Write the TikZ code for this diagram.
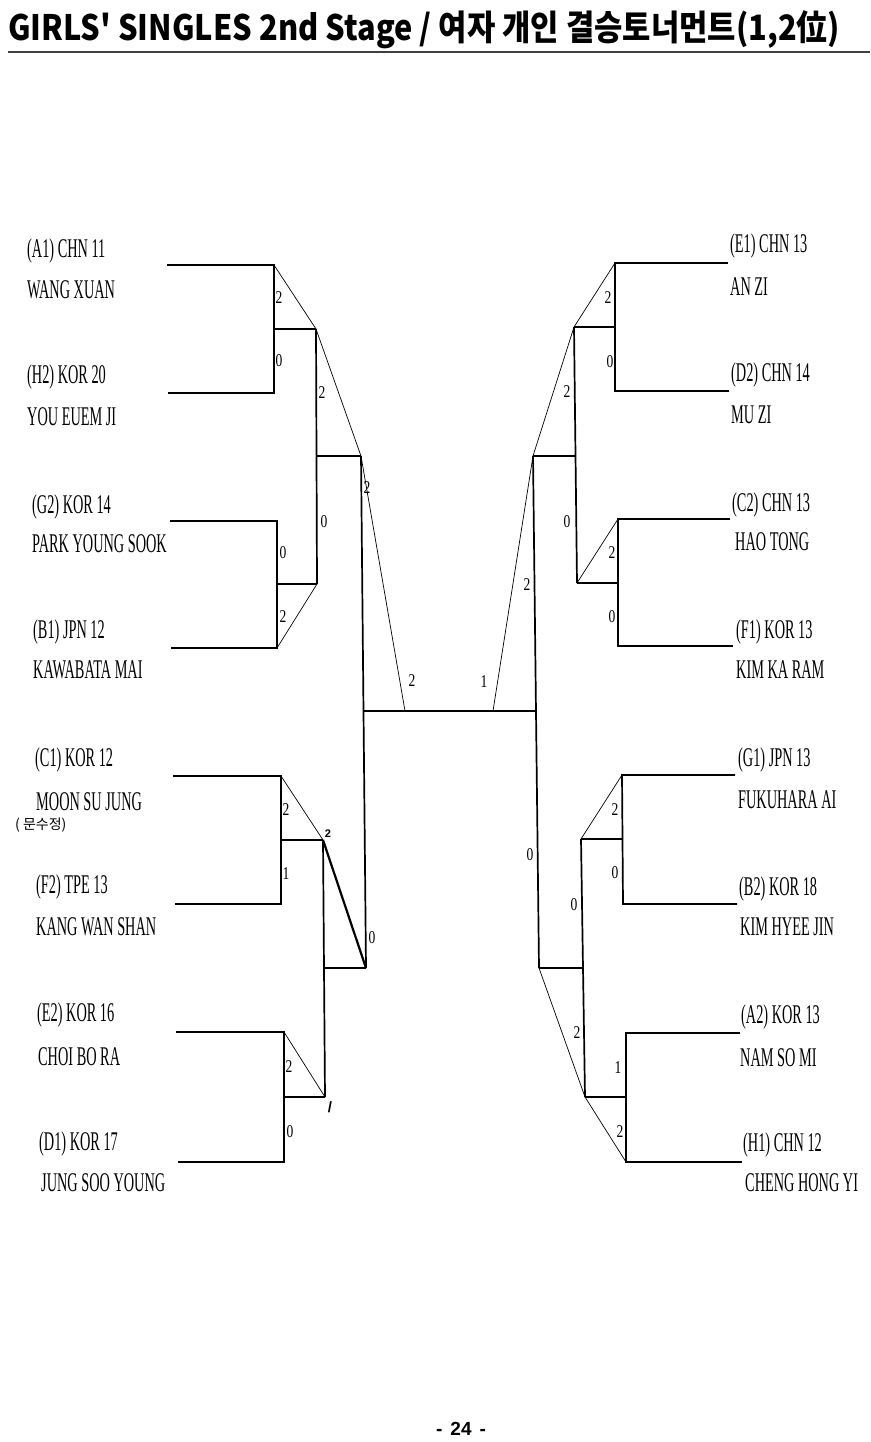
\documentclass[tikz,border=0pt]{standalone}
\usepackage{fontspec}
\setmainfont{Liberation Serif}
\newfontfamily\namefont{Liberation Serif}[FakeStretch=0.53]
\newfontfamily\scorefont{Liberation Serif}[FakeStretch=0.75]
\newfontfamily\titlefont{Noto Sans CJK KR}[FakeStretch=0.88]
\newfontfamily\hangulfont{Noto Sans CJK KR}
\newfontfamily\pagefont{Liberation Sans}
\usetikzlibrary{positioning}

\begin{document}
\begin{tikzpicture}[x=1pt,y=-1pt,
  player/.style={anchor=base west,inner sep=0pt,font=\namefont\fontsize{27}{29}\selectfont},
  score/.style={inner sep=0pt,font=\scorefont\fontsize{18}{20}\selectfont},
  pen/.style={inner sep=0pt,font=\pagefont\bfseries\fontsize{11}{12}\selectfont},
  entry/.style={line width=1.7pt},
  rung/.style={line width=1.4pt},
  winner/.style={line width=0.7pt}]
  \useasboundingbox (0,0) rectangle (870,1442);

  % title and rule
  \node[anchor=base west,inner sep=0pt,font=\titlefont\bfseries\fontsize{35}{40}\selectfont]
    (title) at (8,41) {GIRLS' SINGLES 2nd Stage / 여자 개인 결승토너먼트(1,2位)};
  \coordinate (rulel) at (8,52);
  \coordinate (ruler) at (870,52);
  \draw[line width=1.6pt,black!75] (rulel) -- (ruler);

  % left half, first round
  \coordinate (a1) at (167,265); \coordinate (a1e) at (274,265);
  \coordinate (h2) at (168,393); \coordinate (h2e) at (274,393);
  \coordinate (m1) at (274,329); \coordinate (m1e) at (316,329);
  \draw[entry] (a1) -- (a1e) -- (h2e) -- (h2);
  \draw[rung] (m1) -- (m1e);
  \draw[winner] (a1e) -- (m1e);

  \coordinate (g2) at (170,521); \coordinate (g2e) at (277,521);
  \coordinate (b1) at (171,648); \coordinate (b1e) at (277,648);
  \coordinate (m2) at (277,584); \coordinate (m2e) at (317,584);
  \draw[entry] (g2) -- (g2e) -- (b1e) -- (b1);
  \draw[rung] (m2) -- (m2e);
  \draw[winner] (b1e) -- (m2e);

  \coordinate (c1) at (173,776); \coordinate (c1e) at (281,776);
  \coordinate (f2) at (175,904); \coordinate (f2e) at (281,904);
  \coordinate (m3) at (281,840); \coordinate (m3e) at (323,840);
  \draw[entry] (c1) -- (c1e) -- (f2e) -- (f2);
  \draw[rung] (m3) -- (m3e);
  \draw[winner] (c1e) -- (m3e);

  \coordinate (e2) at (176,1032); \coordinate (e2e) at (284,1032);
  \coordinate (d1) at (178,1162); \coordinate (d1e) at (284,1162);
  \coordinate (m4) at (284,1097); \coordinate (m4e) at (325,1097);
  \draw[entry] (e2) -- (e2e) -- (d1e) -- (d1);
  \draw[rung] (m4) -- (m4e);
  \draw[winner] (e2e) -- (m4e);

  % left half, second round and semi
  \coordinate (q1) at (316,456); \coordinate (q1e) at (361,456);
  \draw[entry] (m1e) -- (m2e);
  \draw[rung] (q1) -- (q1e);
  \draw[winner] (m1e) -- (q1e);

  \coordinate (q2) at (324,968); \coordinate (q2e) at (366,968);
  \draw[entry] (m3e) -- (m4e);
  \draw[rung] (q2) -- (q2e);
  \draw[line width=2.2pt] (m3e) -- (q2e);

  \draw[entry] (q1e) -- (q2e);

  % right half, first round
  \coordinate (e1) at (728,263); \coordinate (e1e) at (615,263);
  \coordinate (d2) at (729,391); \coordinate (d2e) at (615,391);
  \coordinate (m5) at (615,327); \coordinate (m5e) at (574,327);
  \draw[entry] (e1) -- (e1e) -- (d2e) -- (d2);
  \draw[rung] (m5) -- (m5e);
  \draw[winner] (e1e) -- (m5e);

  \coordinate (c2) at (730,519); \coordinate (c2e) at (618,519);
  \coordinate (f1) at (733,646); \coordinate (f1e) at (618,646);
  \coordinate (m6) at (618,583); \coordinate (m6e) at (577,583);
  \draw[entry] (c2) -- (c2e) -- (f1e) -- (f1);
  \draw[rung] (m6) -- (m6e);
  \draw[winner] (c2e) -- (m6e);

  \coordinate (g1) at (735,775); \coordinate (g1e) at (622,775);
  \coordinate (b2) at (737,904); \coordinate (b2e) at (623,904);
  \coordinate (m7) at (622,839); \coordinate (m7e) at (581,839);
  \draw[entry] (g1) -- (g1e) -- (b2e) -- (b2);
  \draw[rung] (m7) -- (m7e);
  \draw[winner] (g1e) -- (m7e);

  \coordinate (a2) at (740,1033); \coordinate (a2e) at (626,1033);
  \coordinate (h1) at (742,1162); \coordinate (h1e) at (626,1162);
  \coordinate (m8) at (626,1097); \coordinate (m8e) at (585,1097);
  \draw[entry] (a2) -- (a2e) -- (h1e) -- (h1);
  \draw[rung] (m8) -- (m8e);
  \draw[winner] (h1e) -- (m8e);

  % right half, second round and semi
  \coordinate (q3) at (575,456); \coordinate (q3e) at (533,456);
  \draw[entry] (m5e) -- (m6e);
  \draw[rung] (q3) -- (q3e);
  \draw[winner] (m5e) -- (q3e);

  \coordinate (q4) at (583,968); \coordinate (q4e) at (539,968);
  \draw[entry] (m7e) -- (m8e);
  \draw[rung] (q4) -- (q4e);
  \draw[winner] (m8e) -- (q4e);

  \draw[entry] (q3e) -- (q4e);

  % final
  \coordinate (finl) at (363,711); \coordinate (finlw) at (405,711);
  \coordinate (finr) at (536,711); \coordinate (finrw) at (493,711);
  \draw[entry] (finl) -- (finr);
  \draw[winner] (q1e) -- (finlw);
  \draw[winner] (q3e) -- (finrw);

  % scores
  \node[score] (s1a) at (279,298) {2};
  \node[score] (s1b) at (279,361) {0};
  \node[score] (s2a) at (283,553) {0};
  \node[score] (s2b) at (283,617) {2};
  \node[score] (s3a) at (286,810) {2};
  \node[score] (s3b) at (286,874) {1};
  \node[score] (s4a) at (289,1067) {2};
  \node[score] (s4b) at (290,1132) {0};
  \node[score] (t1a) at (322,393) {2};
  \node[score] (t1b) at (324,522) {0};
  \node[pen] (t2a) at (328,834) {2};
  \node[pen,font=\pagefont\bfseries\fontsize{15}{16}\selectfont] (t2b) at (330,1107) {/};
  \node[score] (u1a) at (367,488) {2};
  \node[score] (u1b) at (372,938) {0};
  \node[score] (s5a) at (608,298) {2};
  \node[score] (s5b) at (610,362) {0};
  \node[score] (s6a) at (612,553) {2};
  \node[score] (s6b) at (612,617) {0};
  \node[score] (s7a) at (615,810) {2};
  \node[score] (s7b) at (615,873) {0};
  \node[score] (s8a) at (618,1068) {1};
  \node[score] (s8b) at (620,1132) {2};
  \node[score] (t3a) at (567,392) {2};
  \node[score] (t3b) at (567,522) {0};
  \node[score] (t4a) at (574,905) {0};
  \node[score] (t4b) at (577,1033) {2};
  \node[score] (u2a) at (527,585) {2};
  \node[score] (u2b) at (530,855) {0};
  \node[score] (v1) at (412,681) {2};
  \node[score] (v2) at (484,682) {1};

  % players, left
  \node[player] (pa1) at (27,257) {(A1) CHN 11};
  \node[player] (na1) at (27,298) {WANG XUAN};
  \node[player] (ph2) at (27,383) {(H2) KOR 20};
  \node[player] (nh2) at (27,425) {YOU EUEM JI};
  \node[player] (pg2) at (32,513) {(G2) KOR 14};
  \node[player] (ng2) at (32,552) {PARK YOUNG SOOK};
  \node[player] (pb1) at (33,638) {(B1) JPN 12};
  \node[player] (nb1) at (33,678) {KAWABATA MAI};
  \node[player] (pc1) at (35,766) {(C1) KOR 12};
  \node[player] (nc1) at (36,810) {MOON SU JUNG};
  \node[anchor=base west,inner sep=0pt,font=\hangulfont\fontsize{14}{15}\selectfont]
    (kc1) at (15,829) {( 문수정)};
  \node[player] (pf2) at (36,893) {(F2) TPE 13};
  \node[player] (nf2) at (36,935) {KANG WAN SHAN};
  \node[player] (pe2) at (37,1021) {(E2) KOR 16};
  \node[player] (ne2) at (38,1065) {CHOI BO RA};
  \node[player] (pd1) at (39,1150) {(D1) KOR 17};
  \node[player] (nd1) at (41,1191) {JUNG SOO YOUNG};

  % players, right
  \node[player] (pe1) at (730,252) {(E1) CHN 13};
  \node[player] (ne1) at (730,295) {AN ZI};
  \node[player] (pd2) at (731,381) {(D2) CHN 14};
  \node[player] (nd2) at (731,423) {MU ZI};
  \node[player] (pc2) at (732,511) {(C2) CHN 13};
  \node[player] (nc2) at (735,550) {HAO TONG};
  \node[player] (pf1) at (736,638) {(F1) KOR 13};
  \node[player] (nf1) at (736,678) {KIM KA RAM};
  \node[player] (pg1) at (738,766) {(G1) JPN 13};
  \node[player] (ng1) at (738,808) {FUKUHARA AI};
  \node[player] (pb2) at (739,895) {(B2) KOR 18};
  \node[player] (nb2) at (740,935) {KIM HYEE JIN};
  \node[player] (pa2) at (741,1023) {(A2) KOR 13};
  \node[player] (na2) at (740,1066) {NAM SO MI};
  \node[player] (ph1) at (743,1151) {(H1) CHN 12};
  \node[player] (nh1) at (745,1191) {CHENG HONG YI};

  % page number
  \node[anchor=base,inner sep=0pt,font=\pagefont\bfseries\fontsize{19}{22}\selectfont]
    (page) at (461,1435) {-\hspace{8pt}24\hspace{8pt}-};
\end{tikzpicture}
\end{document}
